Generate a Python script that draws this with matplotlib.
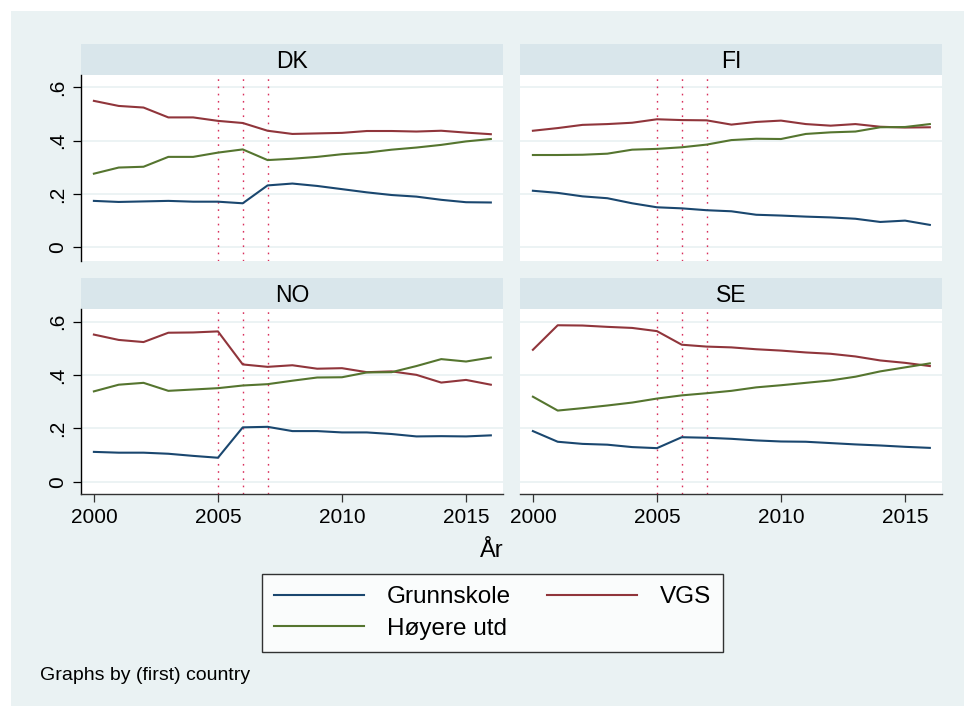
import matplotlib
matplotlib.use("Agg")
import matplotlib.pyplot as plt
import numpy as np

plt.rcParams['font.family'] = ['Liberation Sans', 'DejaVu Sans']

years = list(range(2000, 2017))

dk_grunnskole = [0.174, 0.170, 0.172, 0.174, 0.171, 0.171, 0.165, 0.232, 0.239, 0.230, 0.218, 0.206, 0.196, 0.190, 0.178, 0.169, 0.168]
dk_vgs = [0.549, 0.530, 0.524, 0.487, 0.487, 0.474, 0.466, 0.437, 0.425, 0.427, 0.429, 0.436, 0.436, 0.434, 0.437, 0.430, 0.424]
dk_hoyere = [0.276, 0.299, 0.302, 0.339, 0.339, 0.355, 0.367, 0.327, 0.332, 0.339, 0.349, 0.355, 0.366, 0.374, 0.384, 0.397, 0.406]

fi_grunnskole = [0.212, 0.204, 0.191, 0.184, 0.165, 0.150, 0.146, 0.139, 0.135, 0.122, 0.119, 0.115, 0.112, 0.107, 0.095, 0.100, 0.084]
fi_vgs = [0.437, 0.447, 0.459, 0.462, 0.467, 0.480, 0.477, 0.476, 0.460, 0.470, 0.475, 0.462, 0.456, 0.462, 0.452, 0.449, 0.450]
fi_hoyere = [0.346, 0.346, 0.347, 0.351, 0.366, 0.369, 0.375, 0.385, 0.402, 0.407, 0.406, 0.425, 0.431, 0.434, 0.450, 0.451, 0.462]

no_grunnskole = [0.112, 0.109, 0.109, 0.105, 0.097, 0.090, 0.204, 0.206, 0.190, 0.190, 0.185, 0.185, 0.179, 0.170, 0.171, 0.170, 0.174]
no_vgs = [0.552, 0.532, 0.524, 0.559, 0.560, 0.564, 0.440, 0.431, 0.437, 0.424, 0.426, 0.411, 0.414, 0.401, 0.372, 0.382, 0.364]
no_hoyere = [0.339, 0.364, 0.371, 0.341, 0.346, 0.351, 0.361, 0.366, 0.379, 0.391, 0.392, 0.410, 0.411, 0.434, 0.460, 0.451, 0.466]

se_grunnskole = [0.190, 0.150, 0.142, 0.139, 0.130, 0.126, 0.167, 0.165, 0.161, 0.155, 0.151, 0.150, 0.145, 0.140, 0.136, 0.131, 0.127]
se_vgs = [0.495, 0.587, 0.586, 0.581, 0.577, 0.565, 0.514, 0.507, 0.504, 0.497, 0.492, 0.485, 0.480, 0.470, 0.455, 0.446, 0.434]
se_hoyere = [0.319, 0.267, 0.276, 0.286, 0.297, 0.312, 0.324, 0.332, 0.341, 0.354, 0.362, 0.371, 0.380, 0.394, 0.414, 0.429, 0.444]

countries = ["DK", "FI", "NO", "SE"]
series_labels = ["Grunnskole", "VGS", "Høyere utd"]
reform_years = [2005, 2006, 2007]
yticks = [0, 0.2, 0.4, 0.6]
ytick_labels = ["0", ".2", ".4", ".6"]
xticks = [2000, 2005, 2010, 2015]

data = {
    "DK": [dk_grunnskole, dk_vgs, dk_hoyere],
    "FI": [fi_grunnskole, fi_vgs, fi_hoyere],
    "NO": [no_grunnskole, no_vgs, no_hoyere],
    "SE": [se_grunnskole, se_vgs, se_hoyere],
}

colors = ["#1a476f", "#90353b", "#55752f"]
bg = "#eaf2f3"
strip_col = "#d9e6eb"
grid_col = "#eaf2f3"

W, H = 964, 706
fig = plt.figure(figsize=(W / 100, H / 100), dpi=100)
fig.patch.set_facecolor("white")

def rect(x0, y0, x1, y1):
    return [x0 / W, 1 - y1 / H, (x1 - x0) / W, (y1 - y0) / H]

# outer background
bga = fig.add_axes(rect(11, 11, 964, 706))
bga.set_facecolor(bg)
bga.set_xticks([]); bga.set_yticks([])
for s in bga.spines.values():
    s.set_visible(False)
bga.set_zorder(-10)

panels = {
    "DK": (81, 503, 44, 75, 261, True, False),
    "FI": (520, 942, 44, 75, 261, False, False),
    "NO": (81, 503, 278, 309, 494, True, True),
    "SE": (520, 942, 278, 309, 494, False, True),
}

handles = {}
for c in countries:
    x0, x1, sy0, py0, py1, lefty, bottomx = panels[c]
    # strip
    sa = fig.add_axes(rect(x0, sy0, x1, py0))
    sa.set_facecolor(strip_col)
    sa.set_xticks([]); sa.set_yticks([])
    for s in sa.spines.values():
        s.set_visible(False)
    sa.text(0.5, 0.45, c, ha="center", va="center", fontsize=16.5, transform=sa.transAxes)

    ax = fig.add_axes(rect(x0, py0, x1, py1))
    ax.set_facecolor("white")
    ax.set_xlim(1999.48, 2016.49)
    if py1 == 261:
        ax.set_ylim(-0.0514, 0.646)
    else:
        ax.set_ylim(-0.046, 0.648)
    ax.set_yticks(yticks)
    ax.grid(axis="y", color=grid_col, lw=1.3, zorder=0)
    ax.set_axisbelow(True)
    for ry in reform_years:
        ax.axvline(ry, color="#d9305c", lw=1.0, linestyle=(0, (1.2, 4.0)), zorder=1)
    for vals, col, lab in zip(data[c], colors, series_labels):
        ln, = ax.plot(years, vals, color=col, lw=1.5, zorder=3, label=lab)
        if c == "DK":
            handles[lab] = ln
    for side in ["top", "right"]:
        ax.spines[side].set_visible(False)
    ax.spines["left"].set_visible(lefty)
    ax.spines["bottom"].set_visible(bottomx)
    ax.spines["left"].set_color("black")
    ax.spines["bottom"].set_color("#333333")
    ax.spines["left"].set_linewidth(1.0)
    ax.spines["bottom"].set_linewidth(1.0)
    if lefty:
        ax.set_yticklabels(ytick_labels, rotation=90, va="center", fontsize=15)
        ax.tick_params(axis="y", length=6, width=0.9, pad=4, color="black")
    else:
        ax.tick_params(axis="y", length=0, labelleft=False)
    ax.set_xticks(xticks)
    if bottomx:
        ax.set_xticklabels([str(t) for t in xticks], fontsize=15)
        ax.tick_params(axis="x", length=6, width=0.9, pad=4, color="#333333")
    else:
        ax.tick_params(axis="x", length=0, labelbottom=False)

fig.text(492 / W, 1 - 551 / H, "År", ha="center", va="center", fontsize=17)
fig.text(40 / W, 1 - 675 / H, "Graphs by (first) country", ha="left", va="center", fontsize=14)

# legend order (column-major fill): Grunnskole, Høyere utd | VGS
leg_order = ["Grunnskole", "Høyere utd", "VGS"]
leg = fig.legend(handles=[handles[k] for k in leg_order], labels=leg_order, ncol=2, mode="expand",
                 bbox_to_anchor=(262 / W, 1 - 652 / H, (723 - 262) / W, (652 - 574) / H),
                 loc="lower left", fontsize=17.5, frameon=True, fancybox=False,
                 handlelength=3.7, handletextpad=0.95, columnspacing=1.5,
                 labelspacing=0.4, borderpad=0.5, borderaxespad=0.0)
leg.get_frame().set_edgecolor("black")
leg.get_frame().set_linewidth(1.0)
leg.get_frame().set_facecolor("white")

fig.savefig("out.png", dpi=100, facecolor=fig.get_facecolor())
